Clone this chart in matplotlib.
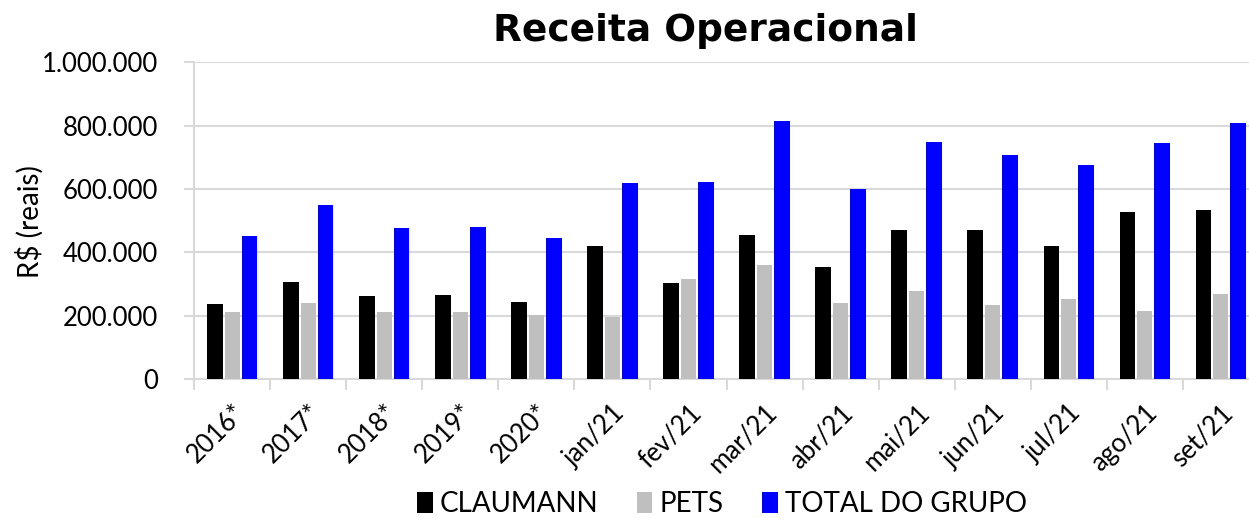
import matplotlib
matplotlib.use("Agg")
import matplotlib.pyplot as plt
import numpy as np
from matplotlib.ticker import FuncFormatter, FixedLocator

categories = ["2016*", "2017*", "2018*", "2019*", "2020*", "jan/21", "fev/21", "mar/21",
              "abr/21", "mai/21", "jun/21", "jul/21", "ago/21", "set/21"]
claumann = [237000, 306000, 262000, 266000, 243000, 421000, 305000, 454000,
            355000, 470000, 470000, 421000, 527000, 535000]
pets = [212000, 242000, 213000, 213000, 203000, 196000, 315000, 361000,
        242000, 277000, 233000, 253000, 217000, 270000]
total = [451000, 550000, 477000, 482000, 446000, 619000, 622000, 815000,
         600000, 750000, 707000, 676000, 747000, 808000]
series_names = ["CLAUMANN", "PETS", "TOTAL DO GRUPO"]
colors = ["#000000", "#bfbfbf", "#0000ff"]
yticks = [0, 200000, 400000, 600000, 800000, 1000000]

plt.rcParams['font.family'] = ['Lato', 'DejaVu Sans']

W, H = 1249, 518
fig = plt.figure(figsize=(W / 100, H / 100), dpi=100)
left, right, top, bottom = 194.3, 1258.7, 62.3, 379.3
ax = fig.add_axes([left / W, 1 - bottom / H, (right - left) / W, (bottom - top) / H])

x = np.arange(len(categories))
step = 0.228
bw = 0.205
for i, (vals, c, name) in enumerate(zip([claumann, pets, total], colors, series_names)):
    ax.bar(x + (i - 1) * step, vals, width=bw, color=c, label=name, zorder=3)

ax.set_xlim(-0.5, len(categories) - 0.5)
ax.set_ylim(0, 1000000)
ax.set_yticks(yticks)
ax.yaxis.set_major_formatter(FuncFormatter(lambda v, p: f"{int(v):,}".replace(",", ".")))
ax.grid(axis='y', color='#d9d9d9', linewidth=1.5, zorder=0)
ax.set_axisbelow(True)

ax.set_xticks(x)
ax.set_xticklabels(categories, rotation=45, ha='right', rotation_mode='anchor', fontsize=18.5)
ax.xaxis.set_minor_locator(FixedLocator(np.arange(-0.5, len(categories), 1.0)))
ax.tick_params(axis='x', which='major', length=0, pad=15)
ax.tick_params(axis='x', which='minor', length=8, color='#d9d9d9', width=1.5)
ax.tick_params(axis='y', length=7, color='#d9d9d9', width=1.5, labelsize=18.5, pad=19)

for s in ['top', 'right']:
    ax.spines[s].set_visible(False)
for s in ['left', 'bottom']:
    ax.spines[s].set_color('#d9d9d9')
    ax.spines[s].set_linewidth(1.5)

fig.text(30 / W, 1 - 222 / H, "R$ (reais)", rotation=90, ha='center', va='center', fontsize=20)
fig.text(705 / W, 1 - 31 / H, "Receita Operacional", ha='center', va='center',
         fontsize=27, fontweight='bold', family=['DejaVu Sans'])

fig.legend(loc='center', bbox_to_anchor=(722 / W, 1 - 504 / H), ncol=3, frameon=False,
           fontsize=20, handlelength=0.55, handleheight=0.8, handletextpad=0.25,
           columnspacing=1.4, borderaxespad=0)

fig.savefig("out.png", dpi=100)
